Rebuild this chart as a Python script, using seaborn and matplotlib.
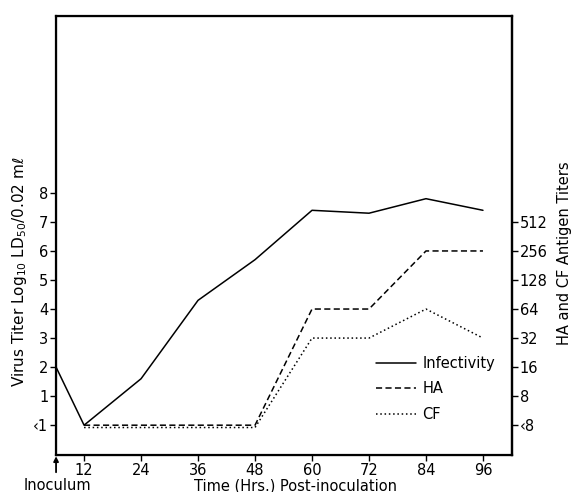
import numpy as np
import pandas as pd
import seaborn as sns
import matplotlib.pyplot as plt

# hours post-inoculation (0 = inoculum, drawn on the left axis)
times = [0, 12, 24, 36, 48, 60, 72, 84, 96]
# log10 LD50 / 0.02 ml, 0 stands for "<1"
infectivity = [2.0, 0.0, 1.6, 4.3, 5.7, 7.4, 7.3, 7.8, 7.4]
# antigen titers as doubling steps above "<8" (0 = <8, 1 = 8, ... 7 = 512)
ha_times = [12, 24, 36, 48, 60, 72, 84, 96]
ha = [0.0, 0.0, 0.0, 0.0, 4.0, 4.0, 6.0, 6.0]
cf = [-0.08, -0.08, -0.08, -0.08, 3.0, 3.0, 4.0, 3.0]

left_ticks = [0, 1, 2, 3, 4, 5, 6, 7, 8]
left_labels = ['\u20391', '1', '2', '3', '4', '5', '6', '7', '8']
right_ticks = [0, 1, 2, 3, 4, 5, 6, 7]
right_labels = ['\u20398', '8', '16', '32', '64', '128', '256', '512']
x_ticks = [12, 24, 36, 48, 60, 72, 84, 96]

X_LEFT, X_RIGHT = 6.1, 102.1

df = pd.concat([
    pd.DataFrame({'time': times, 'value': infectivity, 'series': 'Infectivity'}),
    pd.DataFrame({'time': ha_times, 'value': ha, 'series': 'HA'}),
    pd.DataFrame({'time': ha_times, 'value': cf, 'series': 'CF'}),
])
# inoculum sample sits on the y axis
df['plot_time'] = np.where(df.time == 0, X_LEFT, df.time)

sns.set_style('ticks', {'axes.edgecolor': 'black', 'xtick.color': 'black',
                        'ytick.color': 'black', 'text.color': 'black',
                        'axes.labelcolor': 'black'})
plt.rcParams['font.family'] = ['DejaVu Sans']

fig = plt.figure(figsize=(5.72, 4.92), dpi=100)
ax = fig.add_axes([0.098, 0.075, 0.797, 0.893])
sns.lineplot(data=df, x='plot_time', y='value', style='series',
             hue='series', palette={'Infectivity': 'black', 'HA': 'black', 'CF': 'black'},
             dashes={'Infectivity': '', 'HA': (4, 2.2), 'CF': (1, 1.8)},
             linewidth=1.1, sort=False, ax=ax)

ax.set_xlim(X_LEFT, X_RIGHT)
ax.set_ylim(-1.03, 14.1)
ax.set_xticks(x_ticks)
ax.set_xticklabels([str(t) for t in x_ticks], fontsize=10.5)
ax.set_yticks(left_ticks)
ax.set_yticklabels(left_labels, fontsize=10.5)
ax.tick_params(direction='out', length=4, width=1.0, pad=1.5)
for s in ax.spines.values():
    s.set_linewidth(1.6)
ax.set_xlabel('')
ax.set_ylabel('')

ax2 = ax.twinx()
ax2.set_ylim(ax.get_ylim())
ax2.set_yticks(right_ticks)
ax2.set_yticklabels(right_labels, fontsize=10.5)
ax2.tick_params(direction='out', length=4, width=1.0, pad=1.5)
ax2.spines['right'].set_linewidth(1.6)

fig.text(20 / 572, 1 - 272 / 492, 'Virus Titer Log$_{10}$ LD$_{50}$/0.02 m$\\ell$',
         rotation=90, ha='center', va='center', fontsize=11)
fig.text(564 / 572, 1 - 253 / 492, 'HA and CF Antigen Titers',
         rotation=90, ha='center', va='center', fontsize=10.5)
fig.text(296 / 572, 1 - 486 / 492, 'Time (Hrs.) Post-inoculation',
         ha='center', va='center', fontsize=10.5)
fig.text(57 / 572, 1 - 486 / 492, 'Inoculum', ha='center', va='center', fontsize=10.5)
# inoculum arrow pointing up at the y axis
ax.annotate('', xy=(X_LEFT, -1.07), xytext=(X_LEFT, -1.62),
            xycoords='data', annotation_clip=False,
            arrowprops=dict(arrowstyle='-|>', color='black', lw=1.3,
                            mutation_scale=7, shrinkA=0, shrinkB=0))

handles, labels = ax.get_legend_handles_labels()
ax.legend(handles=handles, labels=labels, loc='upper left',
          bbox_to_anchor=(0.672, 0.255), frameon=False, fontsize=10.5,
          handlelength=2.8, handletextpad=0.4, labelspacing=0.7)

fig.savefig('out.png', dpi=100)
